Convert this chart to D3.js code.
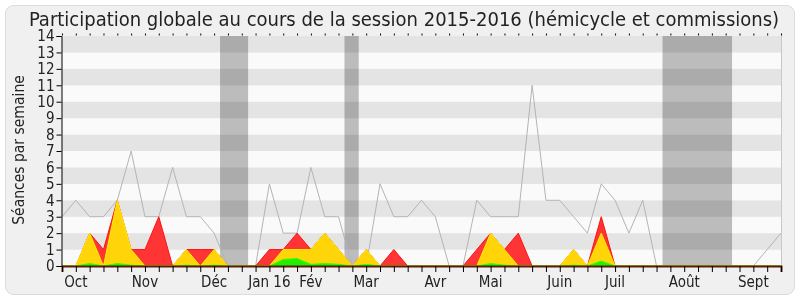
<!DOCTYPE html>
<html lang="fr">
<head>
<meta charset="UTF-8">
<title>Participation globale</title>
<script src="https://cdn.jsdelivr.net/npm/d3@7"></script>
<style>
  html, body { margin: 0; padding: 0; background: #fff; }
  svg text { font-family: "DejaVu Sans Condensed", "DejaVu Sans", sans-serif; fill: #222; }
</style>
</head>
<body>
<div id="chart"></div>
<script>
// semaines de la session (0 = fin septembre 2015)
var semaines = d3.range(53);
// total des séances par semaine (ligne grise)
var seances = [3,4,3,3,4,7,3,3,6,3,3,2,0,0,0,5,2,2,6,3,3,0,0,5,3,3,4,3,0,0,
               4,3,3,3,11,4,4,3,2,5,4,2,4,0,0,0,0,0,0,0,0,1,2];
// présences (rouge)
var presences = [0,0,2,1,4,1,1,3,0,1,1,1,0,0,0,1,1,2,1,2,1,0,1,0,1,0,0,0,0,0,
                 1,2,1,2,0,0,0,1,0,3,0,0,0,0,0,0,0,0,0,0,0,0,0];
// participations (jaune)
var participations = [0,0,2,0,4,1,0,0,0,1,0,1,0,0,0,0,1,1,1,2,1,0,1,0,0,0,0,0,0,0,
                      0,2,1,0,0,0,0,1,0,2,0,0,0,0,0,0,0,0,0,0,0,0,0];
// interventions (vert)
var interventions = [0,0,0.15,0,0.15,0.05,0,0,0,0.05,0,0.05,0,0,0,0,0.4,0.45,0.1,0.15,0.1,0,0.1,0,0,0,0,0,0,0,
                     0,0.15,0.05,0,0,0,0,0.05,0,0.3,0,0,0,0,0,0,0,0,0,0,0,0,0];
// vacances parlementaires (semaines de début et de fin)
var vacances = [[12, 13], [21, 21], [44, 48]];
// étiquettes des mois et semaine correspondante
var moisLabels = ["Oct","Nov","Déc","Jan 16","Fév","Mar","Avr","Mai","Juin","Juil","Août","Sept"];
var moisSemaines = [1,6,11,15,18,22,27,31,36,40,45,50];
var yTicks = d3.range(0, 15);

var width = 800, height = 300;
var mLeft = 62, mRight = 781, mTop = 36, mBottom = 266;

var svg = d3.select("#chart").append("svg")
    .attr("width", width)
    .attr("height", height);

svg.append("rect")
    .attr("x", 5.5).attr("y", 5.5)
    .attr("width", 789).attr("height", 289)
    .attr("rx", 8)
    .attr("fill", "#f0f0f0")
    .attr("stroke", "#dcdcdc");

var x = d3.scaleLinear().domain([0, 52]).range([mLeft, mRight]);
var y = d3.scaleLinear().domain([0, 14]).range([mBottom, mTop]);

// bandes horizontales
svg.append("g").selectAll("rect")
    .data(d3.range(0, 14))
    .enter().append("rect")
    .attr("x", mLeft)
    .attr("y", function (d) { return y(d + 1); })
    .attr("width", mRight - mLeft)
    .attr("height", function (d) { return y(d) - y(d + 1); })
    .attr("fill", function (d) { return d % 2 == 1 ? "#e4e4e4" : "#fafafa"; });

// vacances
svg.append("g").selectAll("rect")
    .data(vacances)
    .enter().append("rect")
    .attr("x", function (d) { return x(d[0] - 0.57); })
    .attr("y", mTop)
    .attr("width", function (d) { return x(d[1] + 0.46) - x(d[0] - 0.57); })
    .attr("height", mBottom - mTop)
    .attr("fill", "#c0c0c0")
    .style("mix-blend-mode", "multiply");

// ligne grise du total
var line = d3.line()
    .x(function (d, i) { return x(i); })
    .y(function (d) { return y(d); });

svg.append("path")
    .datum(seances)
    .attr("d", line)
    .attr("fill", "none")
    .attr("stroke", "#b4b4b4")
    .attr("stroke-width", 1);

var area = d3.area()
    .x(function (d, i) { return x(i); })
    .y0(y(0))
    .y1(function (d) { return y(d); });

var couches = [
    {data: presences, fill: "#ff3535", stroke: "#ff1010"},
    {data: participations, fill: "#ffd50a", stroke: "#ffee00"},
    {data: interventions, fill: "#22ee00", stroke: "#33ff00"}
];

couches.forEach(function (c) {
    svg.append("path")
        .datum(c.data)
        .attr("d", area)
        .attr("fill", c.fill);
    svg.append("path")
        .datum(c.data)
        .attr("d", line)
        .attr("fill", "none")
        .attr("stroke", c.stroke)
        .attr("stroke-width", 1);
});

// bordure droite
svg.append("line")
    .attr("x1", mRight + 0.5).attr("x2", mRight + 0.5)
    .attr("y1", mTop).attr("y2", mBottom)
    .attr("stroke", "#c8c8c8");

// axe gauche
var yAxis = d3.axisLeft(y)
    .tickValues(yTicks)
    .tickSize(5)
    .tickPadding(2);

var gy = svg.append("g")
    .attr("transform", "translate(" + (mLeft - 0.5) + ",0)")
    .call(yAxis);
gy.select(".domain").attr("stroke", "#000");
gy.selectAll("text").style("font-size", "15px").attr("fill", "#222");

// axe haut (petits repères)
var xTop = d3.axisTop(x)
    .tickValues(semaines)
    .tickSize(2)
    .tickFormat("");
var gt = svg.append("g")
    .attr("transform", "translate(0," + (mTop - 0.5) + ")")
    .call(xTop);
gt.select(".domain").remove();

// axe bas
var xBottom = d3.axisBottom(x)
    .tickValues(semaines)
    .tickSize(6)
    .tickFormat("");
var gb = svg.append("g")
    .attr("transform", "translate(0," + mBottom + ")")
    .call(xBottom);
gb.select(".domain").attr("stroke", "#5c1c0c").attr("stroke-width", 2);

svg.append("g").selectAll("text")
    .data(moisLabels)
    .enter().append("text")
    .attr("x", function (d, i) { return x(moisSemaines[i]); })
    .attr("y", 287)
    .attr("text-anchor", "middle")
    .style("font-size", "15px")
    .text(function (d) { return d; });

// titre
svg.append("text")
    .attr("x", 404)
    .attr("y", 26)
    .attr("text-anchor", "middle")
    .style("font-size", "20px")
    .text("Participation globale au cours de la session 2015-2016 (hémicycle et commissions)");

// titre de l'axe y
svg.append("text")
    .attr("transform", "translate(24,150) rotate(-90)")
    .attr("text-anchor", "middle")
    .style("font-size", "15.5px")
    .text("Séances par semaine");
</script>
</body>
</html>
